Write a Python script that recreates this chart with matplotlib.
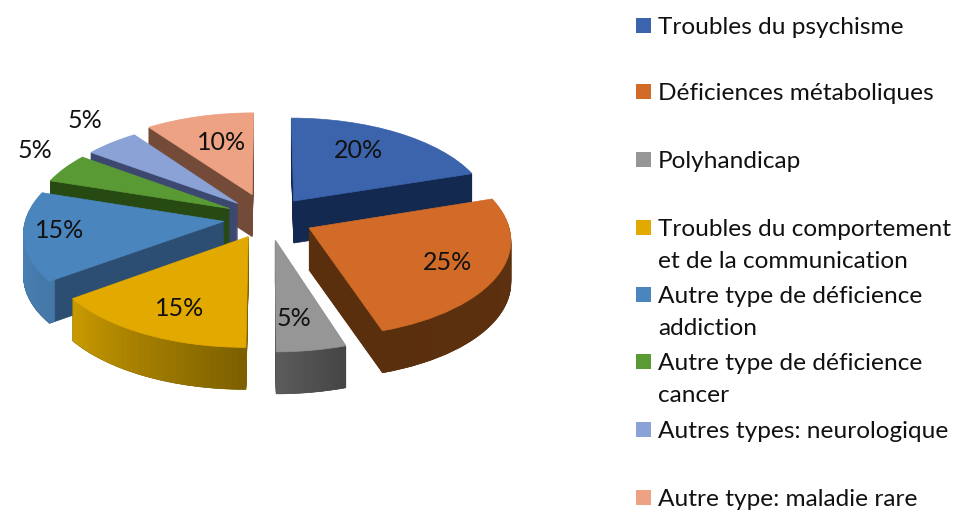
"""Exploded 3D-style pie chart of deficiency types, with a hand-placed legend."""

import numpy as np
import matplotlib
matplotlib.use("Agg")
import matplotlib.pyplot as plt
from matplotlib.colors import to_rgb
from matplotlib.patches import Rectangle, Wedge
from matplotlib.transforms import Affine2D, Transform

plt.rcParams["font.family"] = ["Lato", "DejaVu Sans"]

values = [20, 25, 5, 15, 15, 5, 5, 10]
legend_labels = [
    "Troubles du psychisme",
    "Déficiences métaboliques",
    "Polyhandicap",
    "Troubles du comportement\net de la communication",
    "Autre type de déficience\naddiction",
    "Autre type de déficience\ncancer",
    "Autres types: neurologique",
    "Autre type: maladie rare",
]

top_colors = ["#3b64ad", "#d16b27", "#969696", "#e2a900",
              "#4b85bd", "#5a9a35", "#8ba2d6", "#eda283"]
side_colors = ["#14294f", "#5a2f0d", "#505050", "#7d6100",
               "#2c4e72", "#274a12", "#3c4870", "#744b38"]
# Rim shade at each end of the arc, in order of increasing angle.
rim_colors = [("#14294f", "#14294f"), ("#5a2f0d", "#5e3210"), ("#5c5c5c", "#454545"),
              ("#c99a00", "#7d6100"), ("#4f8bc5", "#4478a8"), ("#274a12", "#274a12"),
              ("#3c4870", "#3c4870"), ("#744b38", "#744b38")]
explode = [0.225, 0.23, 0.23, 0.215, 0.225, 0.22, 0.22, 0.265]
# Painter's order: back slices first.
draw_rank = [1, 5, 7, 6, 4, 3, 2, 0]

label_xy = [(358, 150), (448, 263), (294, 318), (180, 308),
            (60, 231), (35, 151), (85, 121), (222, 142)]
legend_y = [26, 92, 160, 228, 295, 362, 430, 498]

CX, CY, RX, RY, PERSP = 268, 218, 198, 95, 0.105
DEPTH = 42
RIM_STEPS = 30


class Tilt(Transform):
    """Project the flat pie onto the pixel plane with a slight perspective."""

    input_dims = output_dims = 2
    is_separable = False
    has_inverse = False

    def transform_non_affine(self, xy):
        xy = np.asarray(xy, dtype=float)
        scale = 1 + PERSP * xy[:, 1]
        return np.column_stack([CX + RX * xy[:, 0] / scale, CY - RY * xy[:, 1] / scale])


fig = plt.figure(figsize=(9.59, 5.11), dpi=100)
ax = fig.add_axes([0, 0, 1, 1])

wedges, _ = ax.pie(values, explode=explode, colors=top_colors, startangle=90,
                   counterclock=False, wedgeprops={"linewidth": 0.5})
ax.set_aspect("auto")
ax.set_xlim(0, 959)
ax.set_ylim(511, 0)
ax.axis("off")

tilt = Tilt()
for i, w in enumerate(wedges):
    rank = draw_rank[i]
    w.set_transform(tilt + ax.transData)
    w.set_edgecolor(top_colors[i])
    w.set_zorder(rank + 0.8)

    start, end = to_rgb(rim_colors[i][0]), to_rgb(rim_colors[i][1])
    edges = np.linspace(w.theta1, w.theta2, RIM_STEPS + 1)
    for d in range(DEPTH, 0, -1):
        trans = tilt + Affine2D().translate(0, d) + ax.transData
        ax.add_patch(Wedge(w.center, 1, w.theta1, w.theta2, facecolor=side_colors[i],
                           edgecolor=side_colors[i], linewidth=0.5,
                           transform=trans, zorder=rank + 0.1))
        for k in range(RIM_STEPS):
            t = k / (RIM_STEPS - 1)
            color = tuple(a + (b - a) * t for a, b in zip(start, end))
            ax.add_patch(Wedge(w.center, 1, edges[k], edges[k + 1], width=0.03,
                               facecolor=color, edgecolor=color, linewidth=0.2,
                               transform=trans, zorder=rank + 0.2))

for v, (x, y) in zip(values, label_xy):
    ax.text(x, y, f"{v}%", fontsize=18, color="#111111", ha="center", va="center", zorder=20)

for color, text, y in zip(top_colors, legend_labels, legend_y):
    ax.add_patch(Rectangle((636, y - 7.5), 15, 15, facecolor=color, edgecolor="none", zorder=20))
    ax.text(658, y - 9, text, fontsize=17.6, color="#111111", ha="left", va="top",
            linespacing=1.65, zorder=20)

fig.savefig("out.png", dpi=100)
